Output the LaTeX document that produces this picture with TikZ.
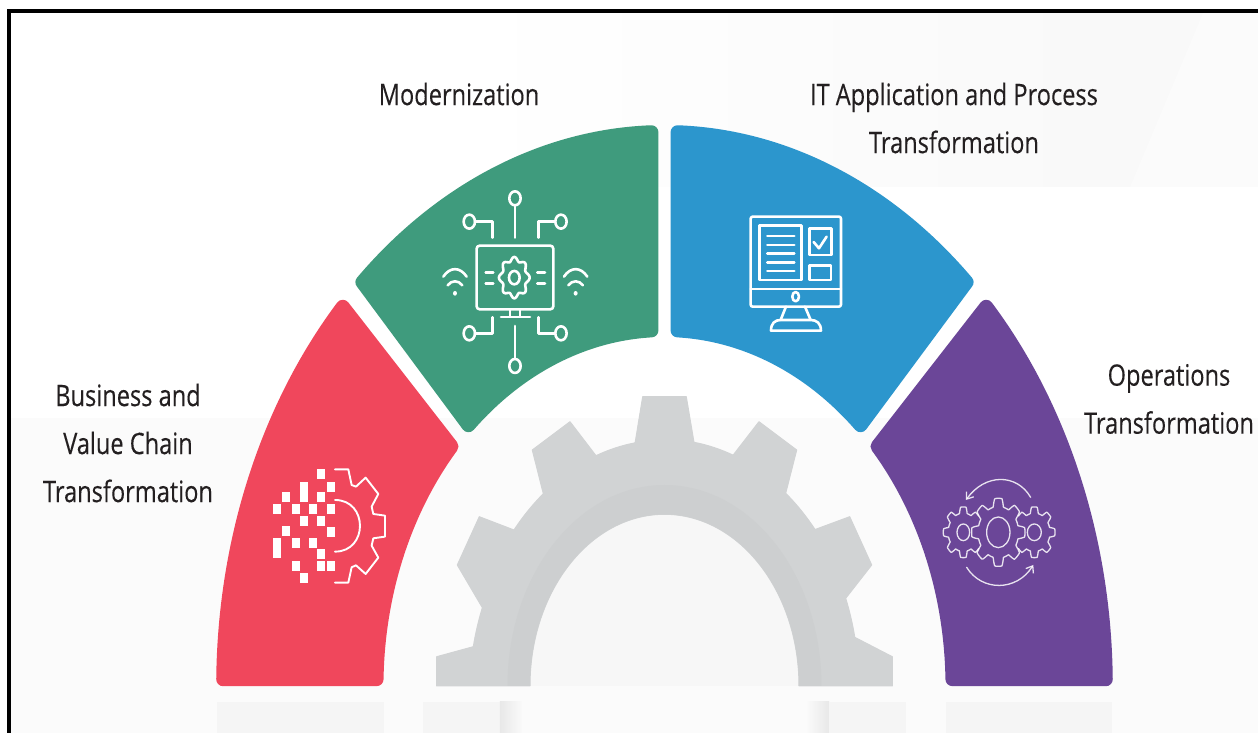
\documentclass[tikz,border=0pt]{standalone}
\usepackage{fontspec}
\setmainfont{Open Sans}
\newfontfamily\labelfont[FakeBold=0.25]{Open Sans}
\usetikzlibrary{arrows.meta}
\definecolor{segred}{HTML}{F0475C}
\definecolor{seggreen}{HTML}{3F9B7D}
\definecolor{segblue}{HTML}{2C96CD}
\definecolor{segpurple}{HTML}{6B4698}
\definecolor{gearbody}{HTML}{D1D3D4}
\definecolor{gearband}{HTML}{CDCFD0}
\definecolor{labelink}{HTML}{231F20}
\tikzset{
  seg/.style={line width=14pt,line join=round},
  lbl/.style={text=labelink,align=center,inner sep=0pt,yscale=1.25,transform shape,
    font=\labelfont\fontsize{23.6}{38.4}\selectfont},
  ico/.style={draw=white,line width=2.6pt,line cap=round,line join=round},
  icothin/.style={draw=white,draw opacity=.85,line width=1.3pt,line cap=round,line join=round},
  pix/.style={fill=white},
  strip/.style={fill=black!4}
}
\newcommand{\archseg}[5]{%
  \filldraw[seg,fill=#1,draw=#1] (#2:441.3 and 554) arc[start angle=#2,end angle=#3,x radius=441.3,y radius=554]
    -- (#5:288 and 356) arc[start angle=#5,end angle=#4,x radius=288,y radius=356] -- cycle;}
\newcommand{\cogline}[7]{%
  \draw[icothin] plot[domain=#6:#7,samples=220,variable=\t]
    ({#1+#3*(.88+.12*max(-1,min(1,2.2*cos(#5*\t))))*cos(\t)},{#2+#4*(.88+.12*max(-1,min(1,2.2*cos(#5*\t))))*sin(\t)});}
\begin{document}
\begin{tikzpicture}[x=1pt,y=1pt]
\useasboundingbox (-664.5,-47) rectangle (593.5,686);
% page and faint backdrop
\fill[white] (-664.5,-47) rectangle (593.5,686);
\fill[left color=white,right color=black!2.5] (-200,499) rectangle (470,673);
\fill[black!2.5] (450,499) rectangle (593.5,673);
\fill[black!1.5] (538.5,673) -- (593.5,673) -- (593.5,499) -- (465.5,499) -- cycle;
\fill[black!1.5] (-653.5,-47) rectangle (593.5,268);
\fill[strip] (-447.5,-47) rectangle (-280.5,-16);
\fill[strip] (-241.5,-47) rectangle (-164.5,-16);
\fill[left color=black!9,right color=black!2] (-164.5,-47) rectangle (-142.5,-16);
\fill[right color=black!9,left color=black!2] (142.5,-47) rectangle (164.5,-16);
\fill[strip] (164.5,-47) rectangle (241.5,-16);
\fill[strip] (281.5,-47) rectangle (447.5,-16);
% frame
\draw[line width=4pt,black] (-655.5,-47) -- (-655.5,675) -- (593.5,675);
% gear
\fill[black!3] (-134.5,0) arc[start angle=180,end angle=0,x radius=134.5,y radius=171.7] -- cycle;
\filldraw[gearbody,line width=1pt,line join=round]
  (-134.5,0) -- (-227.8,0) -- (-227.8,29.3) -- (-191.2,39.3)
  arc[start angle=168.4,end angle=158.9,x radius=195,y radius=245.5]
  -- (-207.2,121) -- (-185.2,169.3) -- (-150.5,156)
  arc[start angle=140.5,end angle=128.4,x radius=195,y radius=245.5]
  -- (-132.2,236) -- (-94.5,264.3) -- (-68.5,230.3)
  arc[start angle=110.6,end angle=98.7,x radius=195,y radius=245.5]
  -- (-21.8,289.3) -- (21.8,289.3) -- (29.5,243.7)
  arc[start angle=81.3,end angle=69.4,x radius=195,y radius=245.5]
  -- (94.5,264.3) -- (132.2,236) -- (121.2,192.7)
  arc[start angle=51.6,end angle=39.5,x radius=195,y radius=245.5]
  -- (185.2,169.3) -- (207.2,121) -- (181.2,87.7)
  arc[start angle=21.1,end angle=11.6,x radius=195,y radius=245.5]
  -- (227.8,29.3) -- (227.8,0) -- (134.5,0)
  arc[start angle=0,end angle=180,x radius=134.5,y radius=171.7] -- cycle;
\fill[gearband] (-157,0) arc[start angle=180,end angle=0,x radius=157,y radius=201]
  -- (134.5,0) arc[start angle=0,end angle=180,x radius=134.5,y radius=171.7] -- cycle;
% four segments
\archseg{segred}{136.8}{179.3}{137.7}{178.9}
\archseg{seggreen}{91.7}{133.2}{92.6}{132.9}
\archseg{segblue}{46.8}{88.3}{47.1}{87.4}
\archseg{segpurple}{0.7}{43.2}{1.1}{42.3}
% labels
\node[lbl] (modern) at (-205.5,592) {Modernization};
\node[lbl] (itapp) at (289.5,568) {IT Application and Process\\Transformation};
\node[lbl] (business) at (-536.5,243) {Business and\\Value Chain\\Transformation};
\node[lbl] (operations) at (504.5,287) {Operations\\Transformation};
% red icon
\begin{scope}[shift={(-464.5,396)},x=.3333pt,y=-.3333pt]
\foreach \px/\py in {352/538,381/575,352/605,247/605,218/642,276/642,328/642,381/642,300/679,352/679,
  381/710,247/709,276/745,328/745,352/776,276/812,352/812,381/812,300/849}
  \fill[pix] (\px,\py) rectangle ++(24,30);
\fill[pix] (300,575) rectangle ++(24,60);
\fill[pix] (218,745) rectangle ++(24,60);
\draw[ico,line width=1.9pt] (405,538) -- (445,538) -- (455,585) -- (468,590) -- (497,563) -- (535,612) -- (515,650) -- (520,672)
  -- (555,677) -- (555,740) -- (520,745) -- (515,767) -- (535,803) -- (497,852) -- (468,826) -- (455,832)
  -- (445,878) -- (405,878);
\draw[ico,line width=1.9pt] (405,630) .. controls (505,630) and (505,785) .. (405,785);
\end{scope}
% green icon
\begin{scope}[shift={(-324.5,576)},x=.3333pt,y=-.3333pt]
\draw[ico,rounded corners=3pt] (410,407) rectangle (640,598);
\draw[ico] plot[domain=0:360,samples=160,variable=\t]
  ({523+(41+5*cos(8*\t))*cos(\t)},{503+(56+6*cos(8*\t))*sin(\t)}) -- cycle;
\draw[ico] (523,503) ellipse (16 and 20);
\foreach \dy in {487,520} {
  \draw[ico] (437,\dy) -- (460,\dy);
  \draw[ico] (592,\dy) -- (615,\dy);
}
\draw[ico] (510,600) -- (510,618);
\draw[ico] (540,600) -- (540,618);
\draw[ico] (483,621) -- (570,621);
\draw[ico] (525,383) -- (525,285);
\draw[ico] (525,265) ellipse (17 and 21);
\draw[ico] (525,648) -- (525,747);
\draw[ico] (525,768) ellipse (17 and 21);
\draw[ico] (458,383) -- (458,335) -- (405,335);
\draw[ico] (388,335) ellipse (17 and 21);
\draw[ico] (595,383) -- (595,335) -- (645,335);
\draw[ico] (663,335) ellipse (17 and 21);
\draw[ico] (458,622) -- (458,670) -- (405,670);
\draw[ico] (388,670) ellipse (17 and 21);
\draw[ico] (595,622) -- (595,670) -- (645,670);
\draw[ico] (663,670) ellipse (17 and 21);
\foreach \wx in {345,707} {
  \fill[pix] (\wx,550) ellipse (6 and 7);
  \draw[ico] (\wx-22,526) .. controls (\wx-10,510) and (\wx+10,510) .. (\wx+22,526);
  \draw[ico] (\wx-35,500) .. controls (\wx-15,470) and (\wx+15,470) .. (\wx+35,500);
}
\end{scope}
% blue icon
\begin{scope}[shift={(-4.5,576)},x=.3333pt,y=-.3333pt]
\draw[ico,rounded corners=2pt] (272,320) rectangle (543,590);
\draw[ico] (272,537) -- (543,537);
\draw[ico] (407,560) ellipse (10 and 14);
\draw[ico] (298,347) rectangle (425,510);
\foreach \ly in {378,405,430,458,483}
  \draw[ico] (322,\ly) -- (403,\ly);
\draw[ico] (448,355) rectangle (515,435);
\draw[ico] (461,396) -- (477,415) -- (500,380);
\draw[ico] (448,467) rectangle (513,510);
\draw[ico] (378,590) -- (362,630);
\draw[ico] (435,590) -- (452,630);
\draw[ico] (333,662) .. controls (333,640) and (345,630) .. (362,630) -- (452,630)
  .. controls (470,630) and (483,640) .. (483,662) -- cycle;
\end{scope}
% purple icon
\begin{scope}[shift={(195.5,396)},x=.3333pt,y=-.3333pt]
\cogline{415}{727}{80}{102}{8}{0}{360}
\draw[icothin] (415,727) ellipse (35 and 46);
\cogline{310}{727}{60}{76}{8}{40}{320}
\draw[icothin] (310,727) ellipse (19 and 25);
\cogline{523}{727}{62}{76}{8}{-140}{140}
\draw[icothin] (523,727) ellipse (21 and 25);
\draw[icothin,-{Straight Barb[length=6pt,width=9pt]}] (512,622) .. controls (470,550) and (375,550) .. (318,630);
\draw[icothin,-{Straight Barb[length=6pt,width=9pt]}] (320,832) .. controls (365,905) and (470,905) .. (520,825);
\end{scope}
\end{tikzpicture}
\end{document}
